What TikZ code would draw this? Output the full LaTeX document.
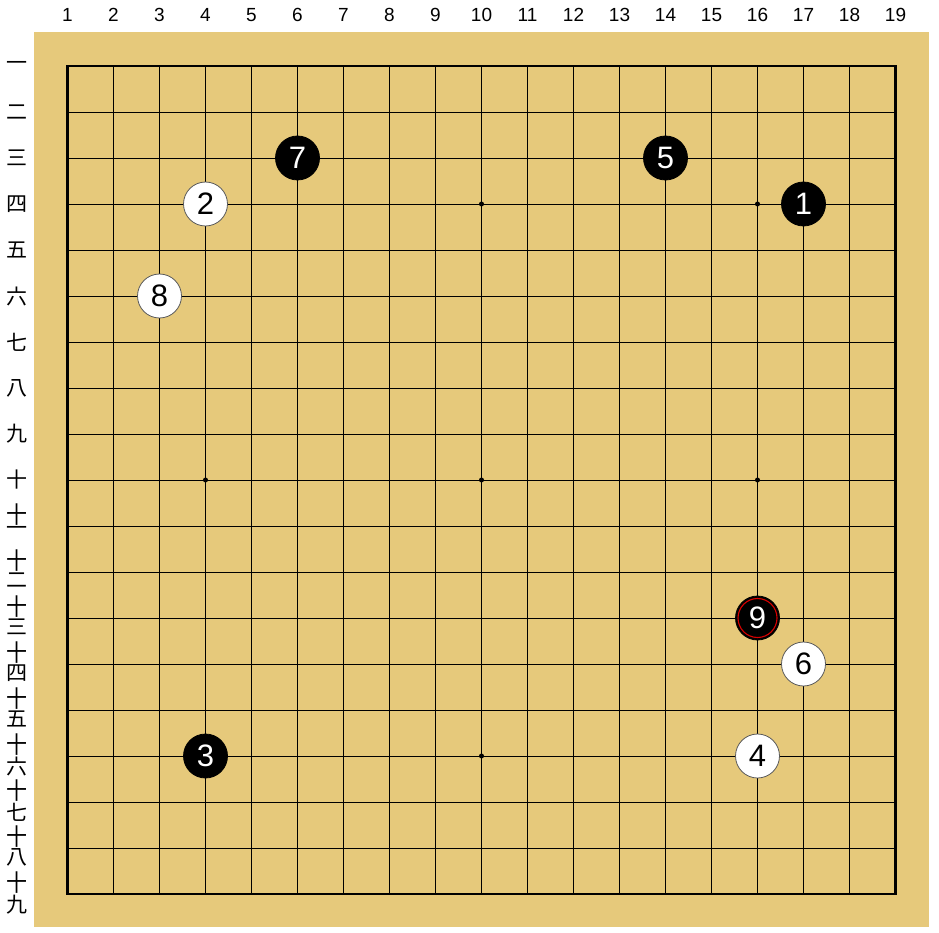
\documentclass[tikz,border=0pt]{standalone}
\usepackage{graphicx}
\usepackage{fontspec}
\setmainfont{Liberation Sans}
\newfontfamily\cjk{Noto Sans CJK JP}
\definecolor{board}{RGB}{230,201,123}
\newcommand\stackten[1]{\vbox{\offinterlineskip\halign{\hfil##\hfil\cr\scalebox{1}[1.12]{十}\cr\noalign{\kern1pt}#1\cr}}}
\begin{document}
\begin{tikzpicture}[x=1pt,y=-1pt,
  stonebase/.style={circle,line width=0.8pt,minimum size=44pt,inner sep=0pt,font=\fontsize{31}{31}\selectfont},
  stoneb/.style={stonebase,fill=black,draw=black,text=white},
  stonew/.style={stonebase,fill=white,draw=black!65,text=black},
  collab/.style={font=\fontsize{19}{19}\selectfont,inner sep=0pt},
  rowlab/.style={font=\cjk\fontsize{21}{21}\selectfont,inner sep=0pt},
  hoshi/.style={circle,fill=black,minimum size=5pt,inner sep=0pt},
  gridline/.style={line width=0.9pt,black},
  lastmark/.style={draw=red!85!black,line width=1.1pt}]
\fill[white] (0,0) rectangle (939,933);
\useasboundingbox (0,0) rectangle (939,933);
\fill[board] (34,32) rectangle (929,927);
\foreach \i in {2,...,18} {
  \draw[gridline] ({67.5+(\i-1)*46},66) -- ({67.5+(\i-1)*46},894);
  \draw[gridline] (67.5,{66+(\i-1)*46}) -- (895.5,{66+(\i-1)*46});
}
\draw[line width=2.4pt] (67.5,66) rectangle (895.5,894);
% column labels
\foreach \i in {1,...,19}
  \node[collab] (c\i) at ({67.5+(\i-1)*46},15) {\i};
% row labels 1-10
\foreach \j/\t in {1/一,2/二,3/三,4/四,5/五,6/六,7/七,8/八,9/九,10/十}
  \node[rowlab] (r\j) at (17,{66+(\j-1)*46}) {\t};
% row labels 11-19, stacked
\foreach \j/\t in {11/一,12/二,13/三,14/四,15/五,16/六,17/七,18/八,19/九}
  \node[rowlab,anchor=north] (r\j) at (17,{66+(\j-1)*46-22}) {\stackten{\t}};
% hoshi
\foreach \a/\b in {10/4,16/4,4/10,10/10,16/10,10/16}
  \node[hoshi] (h\a-\b) at ({67.5+(\a-1)*46},{66+(\b-1)*46}) {};
% stones
\node[stoneb] (s1) at ({67.5+16*46},{66+3*46}) {1};
\node[stonew] (s2) at ({67.5+3*46},{66+3*46}) {2};
\node[stoneb] (s3) at ({67.5+3*46},{66+15*46}) {3};
\node[stonew] (s4) at ({67.5+15*46},{66+15*46}) {4};
\node[stoneb] (s5) at ({67.5+13*46},{66+2*46}) {5};
\node[stonew] (s6) at ({67.5+16*46},{66+13*46}) {6};
\node[stoneb] (s7) at ({67.5+5*46},{66+2*46}) {7};
\node[stonew] (s8) at ({67.5+2*46},{66+5*46}) {8};
\node[stoneb] (s9) at ({67.5+15*46},{66+12*46}) {9};
\draw[lastmark] (s9.center) circle[radius=19.5pt];
\end{tikzpicture}
\end{document}
